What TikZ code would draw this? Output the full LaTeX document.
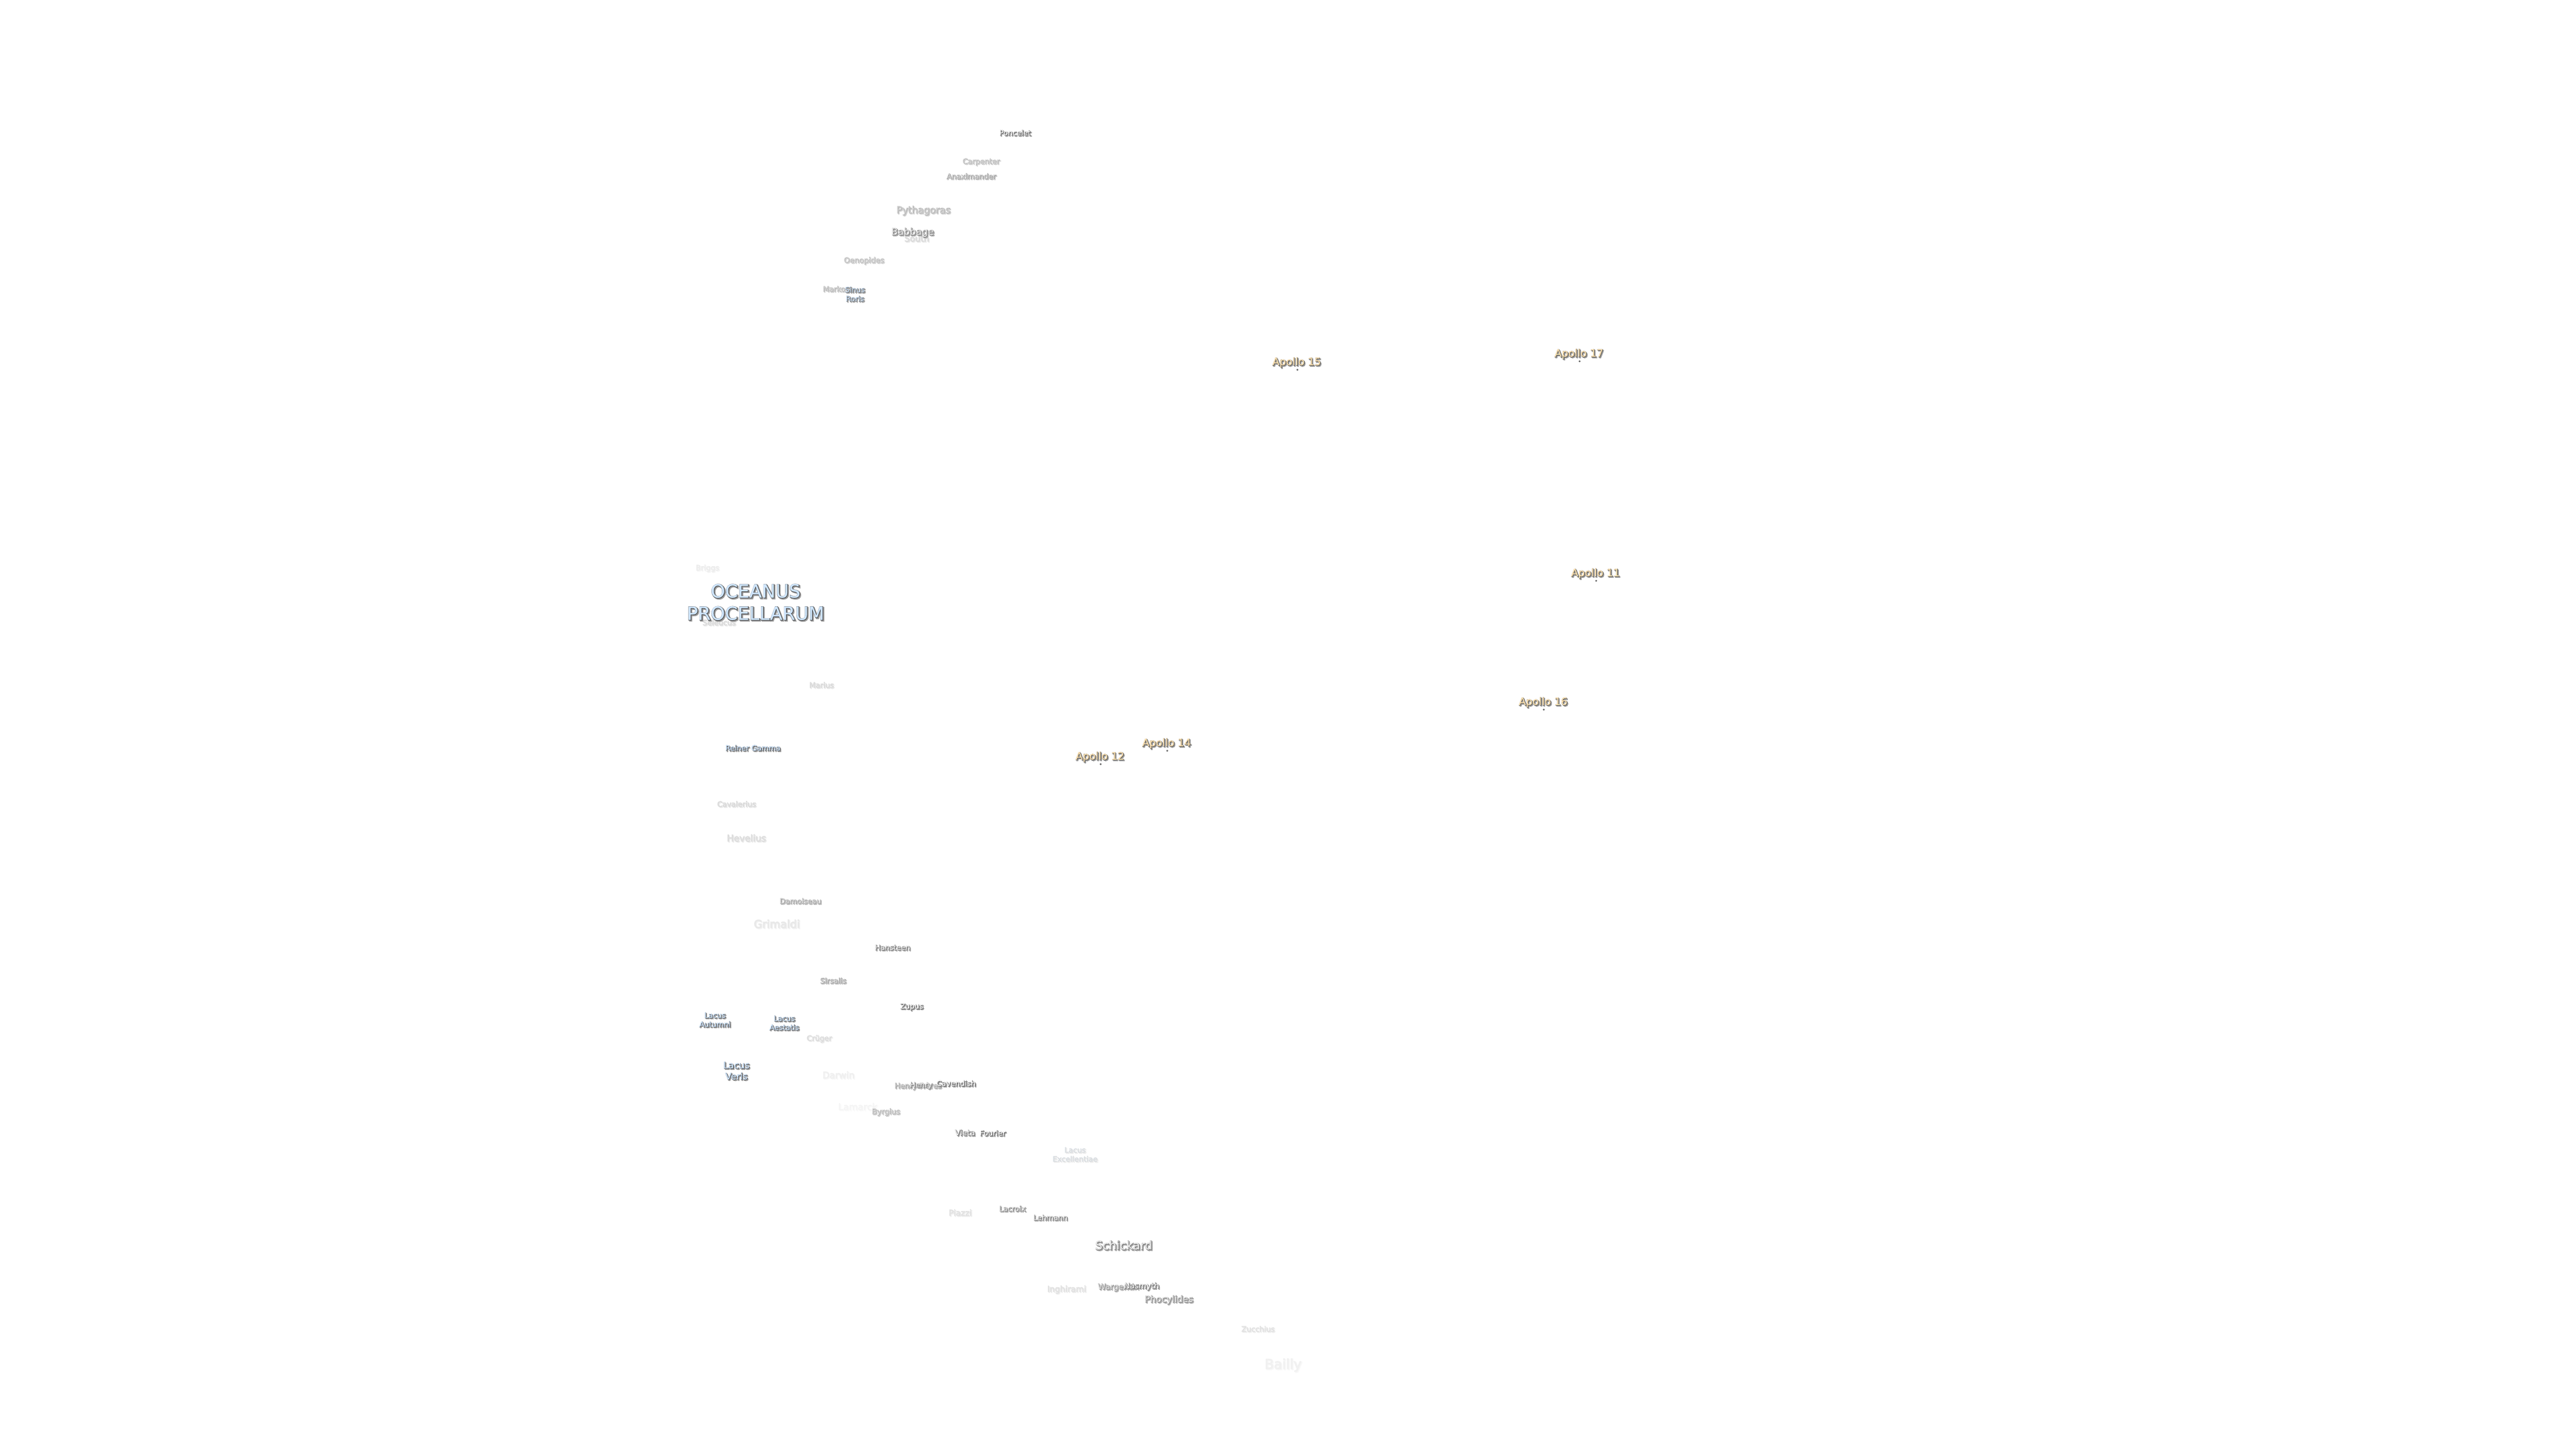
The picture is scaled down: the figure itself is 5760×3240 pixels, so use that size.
\documentclass[tikz,border=0pt]{standalone}
\usepackage{fontspec}
\setmainfont{DejaVu Sans}
\newfontfamily\coreface[FakeBold=0.7]{DejaVu Sans}
\newfontfamily\haloface[FakeBold=4.5]{DejaVu Sans}
\newfontfamily\shadeface[FakeBold=7]{DejaVu Sans}
\definecolor{seacore}{HTML}{CFE6FF}
\definecolor{sitecore}{HTML}{FBE0B0}
\tikzset{
	moontext/.style={align=center,inner sep=0pt,outer sep=0pt},
	landingdot/.style={circle,inner sep=0pt,minimum size=1.3pt,fill=black!60}
}
% #1 name, #2 x, #3 y, #4 size, #5 strength, #6 core colour, #7 text
\newcommand{\moonlabel}[7]{
	\pgfmathsetmacro{\Lead}{#4*1.22}
	\pgfmathsetmacro{\EdgeSt}{#5*0.76}
	\pgfmathsetmacro{\ShadeSt}{#5*0.4}
	\pgfmathsetmacro{\CoreOp}{#5/100}
	\node[moontext,text=black!\ShadeSt,font=\shadeface\fontsize{#4}{\Lead}\selectfont]
		(#1-shade) at (#2+2,#3+2) {#7};
	\node[moontext,text=black!\EdgeSt,font=\haloface\fontsize{#4}{\Lead}\selectfont]
		(#1-halo) at (#2,#3) {#7};
	\node[moontext,text=#6,text opacity=\CoreOp,font=\coreface\fontsize{#4}{\Lead}\selectfont]
		(#1) at (#2-0.5,#3-0.5) {#7};
}
\begin{document}
\begin{tikzpicture}[x=0.01cm,y=-0.01cm]
\useasboundingbox (0,0) rectangle (5760,3240);
% craters
\foreach \Nm/\X/\Y/\Sz/\St/\Txt in
{south/2050/533/5.4/22/South,
 poncelet/2270/297/4.7/100/Poncelet,carpenter/2194/362/4.7/42/Carpenter,
 anaximander/2172/394/4.7/60/Anaximander,pythagoras/2065/471/6.1/45/Pythagoras,
 babbage/2041/520/6.1/80/Babbage,oenopides/1932/583/4.8/40/Oenopides,
 markov/1870/646/4.7/45/Markov,briggs/1582/1271/4.7/10/Briggs,
 seleucus/1608/1392/4.7/22/Seleucus,marius/1837/1532/4.7/22/Marius,
 cavalerius/1647/1798/4.7/22/Cavalerius,hevelius/1669/1874/5.8/20/Hevelius,
 damoiseau/1790/2015/4.7/60/Damoiseau,grimaldi/1737/2066/6.9/13/Grimaldi,
 hansteen/1996/2119/4.7/90/Hansteen,sirsalis/1863/2193/4.7/60/Sirsalis,
 zupus/2039/2252/4.7/100/Zupus,cruger/1832/2323/4.7/20/Crüger,
 darwin/1875/2404/5.8/8/Darwin,lamarck/1918/2475/5.8/5/Lamarck,
 byrgius/1981/2487/4.8/45/Byrgius,henryfreres/2053/2429/4.7/60/Henry Frères,
 henry/2060/2428/4.7/85/Henry,cavendish/2138/2423/4.8/100/Cavendish,
 vieta/2158/2533/5/90/Vieta,fourier/2220/2534/4.7/100/Fourier,
 piazzi/2147/2712/5.2/17/Piazzi,lacroix/2264/2703/4.7/80/Lacroix,
 lehmann/2349/2723/4.7/85/Lehmann,schickard/2513/2785/7.5/85/Schickard,
 inghirami/2385/2884/5.2/17/Inghirami,wargentin/2501/2879/5.1/70/Wargentin,
 nasmyth/2553/2877/5/90/Nasmyth,phocylides/2614/2907/5.8/75/Phocylides,
 zucchius/2813/2972/4.7/17/Zucchius,bailly/2869/3053/8.6/7/Bailly}
{
	\moonlabel{\Nm}{\X}{\Y}{\Sz}{\St}{white}{\Txt}
}
% maria and lakes
\foreach \Nm/\X/\Y/\Sz/\St/\Txt in
{sinusroris/1912/658/4.7/90/{Sinus\\Roris},
 oceanus/1690/1347/11.6/100/{OCEANUS\\PROCELLARUM},
 reiner/1684/1673/4.7/100/Reiner Gamma,
 autumni/1599/2281/4.7/100/{Lacus\\Autumni},
 aestatis/1754/2288/4.7/100/{Lacus\\Aestatis},
 veris/1647/2395/5.8/100/{Lacus\\Veris},
 excellentiae/2404/2582/4.7/17/{Lacus\\Excellentiae}}
{
	\moonlabel{\Nm}{\X}{\Y}{\Sz}{\St}{seacore}{\Txt}
}
% landing sites
\foreach \Nm/\X/\Y/\Txt in
{apolloA/2900/811/Apollo 15,apolloB/3531/792/Apollo 17,apolloC/3568/1283/Apollo 11,
 apolloD/3451/1571/Apollo 16,apolloE/2609/1663/Apollo 14,apolloF/2460/1693/Apollo 12}
{
	\moonlabel{\Nm}{\X}{\Y}{6.6}{100}{sitecore}{\Txt}
	\node[landingdot] (\Nm-dot) at (\X+1,\Y+16) {};
}
\end{tikzpicture}
\end{document}
